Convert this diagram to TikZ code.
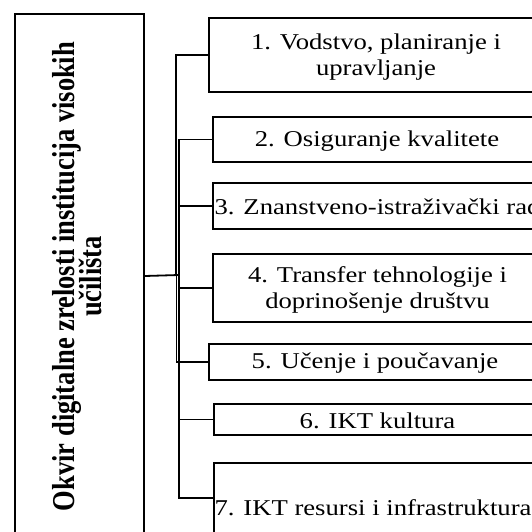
\documentclass[tikz,border=0pt]{standalone}
\usepackage{fontspec}
\setmainfont{Liberation Serif}
\begin{document}
\begin{tikzpicture}[x=1pt,y=-1pt,
  box/.style={draw, line width=2pt, inner sep=0pt, rectangle},
  conn/.style={line width=1.8pt},
  lbl/.style={inner sep=0pt, align=center, font=\fontsize{22.6}{26}\selectfont},
  ttl/.style={inner sep=0pt, rotate=90, anchor=base, font=\bfseries\fontsize{26.5}{30}\selectfont}
]
\useasboundingbox (0,0) rectangle (532,532);
\clip (0,0) rectangle (532,532);
% left box
\node[box, minimum width=129pt, minimum height=524pt, anchor=north west] (L) at (14,13) {};
\node[ttl] (ta) at (74.5,276.5) {\scalebox{1}[1.2]{Okvir digitalne zrelosti institucija visokih}};
\node[ttl] (tb) at (101,276.5) {\scalebox{1}[1.2]{učilišta}};
% right boxes
\node[box, minimum width=333pt, minimum height=74pt] (b1) at (375.5,55) {};
\node[box, minimum width=329pt, minimum height=45pt] (b2) at (377.5,139.5) {};
\node[box, minimum width=329pt, minimum height=46pt] (b3) at (377.5,206) {};
\node[box, minimum width=329pt, minimum height=68pt] (b4) at (377.5,288) {};
\node[box, minimum width=333pt, minimum height=36pt] (b5) at (375.5,362) {};
\node[box, minimum width=328pt, minimum height=31pt] (b6) at (378,419.5) {};
\node[box, minimum width=328pt, minimum height=70pt] (b7) at (378,498) {};
% labels
\node[lbl] (l1) at (376,57) {\scalebox{1.18}[1]{1. Vodstvo, planiranje i}\\\scalebox{1.18}[1]{upravljanje}};
\node[lbl] (l2) at (377,141) {\scalebox{1.18}[1]{2. Osiguranje kvalitete}};
\node[lbl] (l3) at (377.5,207) {\scalebox{1.18}[1]{3. Znanstveno-istraživački rad}};
\node[lbl] (l4) at (377.5,290) {\scalebox{1.18}[1]{4. Transfer tehnologije i}\\\scalebox{1.18}[1]{doprinošenje društvu}};
\node[lbl] (l5) at (375,363) {\scalebox{1.18}[1]{5. Učenje i poučavanje}};
\node[lbl] (l6) at (377.5,421) {\scalebox{1.18}[1]{6. IKT kultura}};
\node[lbl] (l7) at (373,508) {\scalebox{1.18}[1]{7. IKT resursi i infrastruktura}};
% connectors
\coordinate (jA) at (176,275);
\coordinate (jB) at (176.5,275);
\coordinate (jC) at (179,275);
\draw[conn] (L.east) -- (jC);
\draw[conn] (jA) |- (b1.west);
\draw[conn] (jC) |- (b2.west);
\draw[conn] (jC) |- (b3.west);
\draw[conn] (jC) |- (b4.west);
\draw[conn] (jB) |- (b5.west);
\draw[conn] (jC) |- (b6.west);
\draw[conn] (jC) |- (b7.west);
\end{tikzpicture}
\end{document}
